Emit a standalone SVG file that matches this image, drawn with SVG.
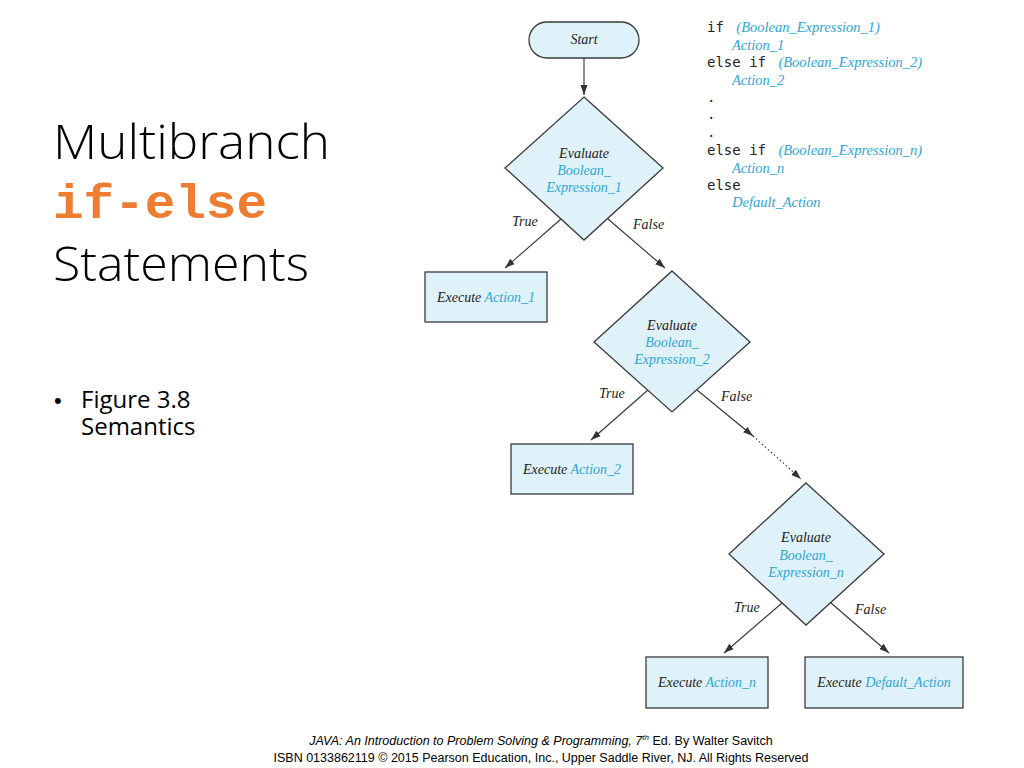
<svg xmlns="http://www.w3.org/2000/svg" width="1024" height="768" viewBox="0 0 1024 768">
<defs>
<marker id="ah" viewBox="0 0 10 10" refX="10" refY="5" markerWidth="10" markerHeight="10" markerUnits="userSpaceOnUse" orient="auto">
<path d="M0,1.5 L10,5 L0,8.5 Z" fill="#333"/>
</marker>
</defs>
<style>
.shape{fill:#dff1f9;stroke:#3a3a3a;stroke-width:1.3}
.t{font-family:"Liberation Serif",serif;font-style:italic;font-size:14px;fill:#222}
.b{fill:#2ea6d6}
.lbl{font-family:"Liberation Serif",serif;font-style:italic;font-size:14px;fill:#222}
.code{font-family:"DejaVu Sans Mono",monospace;font-size:14px;fill:#222}
.cb{font-family:"Liberation Serif",serif;font-style:italic;font-size:14.5px;fill:#2ea6d6}
.edge{stroke:#333;stroke-width:1.1;fill:none}
.title{font-family:"Open Sans","Liberation Sans",sans-serif;font-weight:300;font-size:48px;fill:#000}
.bul{font-family:"Open Sans","Liberation Sans",sans-serif;font-size:24px;fill:#000}
.foot{font-family:"Liberation Sans",Arial,sans-serif;font-size:12.5px;fill:#000}
</style>
<rect width="1024" height="768" fill="#fff"/>

<text class="title" x="53" y="159" textLength="277" lengthAdjust="spacingAndGlyphs">Multibranch</text>
<text x="53" y="218" font-family="'Liberation Mono',monospace" font-weight="bold" font-size="48" textLength="214" lengthAdjust="spacingAndGlyphs" fill="#ed7d31">if-else</text>
<text class="title" x="53" y="281" textLength="256" lengthAdjust="spacingAndGlyphs">Statements</text>
<text class="bul" x="54" y="408"><tspan font-family="'Liberation Sans',sans-serif" font-size="22">•</tspan><tspan x="81">Figure 3.8</tspan><tspan x="81" dy="27">Semantics</tspan></text>

<g id="code">
<text class="code" x="707" y="32">if <tspan class="cb" dx="4">(Boolean_Expression_1)</tspan></text>
<text class="cb" x="732" y="50">Action_1</text>
<text class="code" x="707" y="67">else if <tspan class="cb" dx="4">(Boolean_Expression_2)</tspan></text>
<text class="cb" x="732" y="85">Action_2</text>
<text class="code" x="707" y="102">.</text>
<text class="code" x="707" y="119">.</text>
<text class="code" x="707" y="137">.</text>
<text class="code" x="707" y="155">else if <tspan class="cb" dx="4">(Boolean_Expression_n)</tspan></text>
<text class="cb" x="732" y="173">Action_n</text>
<text class="code" x="707" y="190">else</text>
<text class="cb" x="732" y="207">Default_Action</text>
</g>

<g id="connectors">
<line class="edge" x1="584" y1="58" x2="584" y2="95" marker-end="url(#ah)"/>
<line class="edge" x1="561" y1="219" x2="505" y2="268" marker-end="url(#ah)"/>
<line class="edge" x1="608" y1="219" x2="665" y2="268" marker-end="url(#ah)"/>
<line class="edge" x1="648" y1="390" x2="591" y2="440" marker-end="url(#ah)"/>
<line class="edge" x1="697" y1="390" x2="753" y2="436" marker-end="url(#ah)"/>
<line class="edge" x1="753" y1="436" x2="801" y2="479" stroke-dasharray="1.5,2.5" marker-end="url(#ah)"/>
<line class="edge" x1="782" y1="603" x2="724" y2="653" marker-end="url(#ah)"/>
<line class="edge" x1="831" y1="603" x2="889" y2="653" marker-end="url(#ah)"/>
<text class="lbl" x="512" y="226">True</text>
<text class="lbl" x="633" y="229">False</text>
<text class="lbl" x="599" y="398">True</text>
<text class="lbl" x="721" y="401">False</text>
<text class="lbl" x="734" y="612">True</text>
<text class="lbl" x="855" y="614">False</text>
</g>

<g id="start">
<rect class="shape" x="529" y="22" width="110" height="36" rx="18"/>
<text class="t" x="584" y="44" text-anchor="middle">Start</text>
</g>

<g id="decision1">
<polygon class="shape" points="584,97 663,168 584,240 505,168"/>
<text class="t" x="584" y="158" text-anchor="middle">Evaluate</text>
<text class="t b" x="584" y="175" text-anchor="middle">Boolean_</text>
<text class="t b" x="584" y="192" text-anchor="middle">Expression_1</text>
</g>

<g id="action1">
<rect class="shape" x="425" y="272" width="122" height="50"/>
<text class="t" x="486" y="302" text-anchor="middle">Execute <tspan class="b">Action_1</tspan></text>
</g>

<g id="decision2">
<polygon class="shape" points="672,271 750,342 672,412 594,342"/>
<text class="t" x="672" y="330" text-anchor="middle">Evaluate</text>
<text class="t b" x="672" y="347" text-anchor="middle">Boolean_</text>
<text class="t b" x="672" y="364" text-anchor="middle">Expression_2</text>
</g>

<g id="action2">
<rect class="shape" x="511" y="444" width="122" height="50"/>
<text class="t" x="572" y="474" text-anchor="middle">Execute <tspan class="b">Action_2</tspan></text>
</g>

<g id="decisionN">
<polygon class="shape" points="806,483 884,554 806,625 729,554"/>
<text class="t" x="806" y="542" text-anchor="middle">Evaluate</text>
<text class="t b" x="806" y="560" text-anchor="middle">Boolean_</text>
<text class="t b" x="806" y="577" text-anchor="middle">Expression_n</text>
</g>

<g id="actionN">
<rect class="shape" x="646" y="657" width="122" height="51"/>
<text class="t" x="707" y="687" text-anchor="middle">Execute <tspan class="b">Action_n</tspan></text>
</g>

<g id="default">
<rect class="shape" x="805" y="657" width="158" height="51"/>
<text class="t" x="884" y="687" text-anchor="middle">Execute <tspan class="b">Default_Action</tspan></text>
</g>

<text class="foot" x="541" y="745" text-anchor="middle" font-style="italic">JAVA: An Introduction to Problem Solving &amp; Programming, 7<tspan font-size="8" dy="-5">th</tspan><tspan dy="5" font-style="normal"> Ed. By Walter Savitch</tspan></text>
<text class="foot" x="541" y="762" text-anchor="middle">ISBN 0133862119 © 2015 Pearson Education, Inc., Upper Saddle River, NJ. All Rights Reserved</text>
</svg>
